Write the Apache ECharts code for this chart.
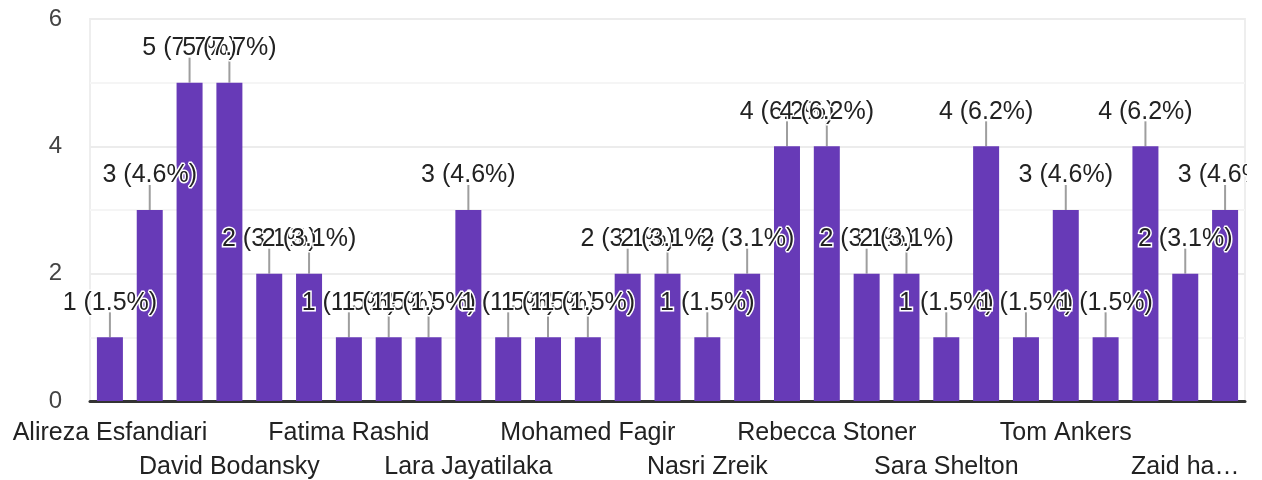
<!DOCTYPE html>
<html>
<head>
<meta charset="utf-8">
<script src="https://cdn.jsdelivr.net/npm/echarts@6/dist/echarts.min.js"></script>
<style>
html,body{margin:0;padding:0;background:#fff;}
#chart{width:1262px;height:480px;}
</style>
</head>
<body>
<div id="chart"></div>
<script>
// Category names: only every third name is legible in the reference; others left blank.
const categories = [
  'Alireza Esfandiari', '', '',
  'David Bodansky', '', '',
  'Fatima Rashid', '', '',
  'Lara Jayatilaka', '', '',
  'Mohamed Fagir', '', '',
  'Nasri Zreik', '', '',
  'Rebecca Stoner', '', '',
  'Sara Shelton', '', '',
  'Tom Ankers', '', '',
  'Zaid ha…', ''
];
const counts = [1, 3, 5, 5, 2, 2, 1, 1, 1, 3, 1, 1, 1, 2, 2, 1, 2, 4, 4, 2, 2, 1, 4, 1, 3, 1, 4, 2, 3];
const yTicks = [0, 2, 4, 6];

const total = counts.reduce((a, b) => a + b, 0);
const FONT = "'Liberation Sans', Arial, Helvetica, sans-serif";

const chart = echarts.init(document.getElementById('chart'));
chart.setOption({
  animation: false,
  grid: {
    left: 90, right: 17, top: 19, bottom: 79,
    containLabel: false,
    outerBoundsMode: 'none',
    show: true, borderColor: '#eeeeee', borderWidth: 2, backgroundColor: 'transparent'
  },
  graphic: [{
    type: 'rect', z: 100, silent: true,
    shape: { x: 1247, y: 0, width: 15, height: 398 },
    style: { fill: '#ffffff' }
  }],
  xAxis: {
    type: 'category',
    data: categories,
    axisLine: { show: true, lineStyle: { color: '#333333', width: 3 } },
    axisTick: { show: false },
    splitLine: { show: false },
    axisLabel: {
      interval: 0,
      hideOverlap: false,
      margin: 15,
      fontSize: 25,
      lineHeight: 34,
      color: '#222222',
      fontFamily: FONT,
      formatter: function (value, index) {
        if (index % 3 !== 0) return '';
        return (Math.floor(index / 3) % 2 === 1) ? '\n' + value : value;
      }
    }
  },
  yAxis: {
    type: 'value',
    min: 0, max: 6, interval: 1,
    axisLine: { show: false },
    axisTick: { show: false },
    splitLine: { show: true, lineStyle: { color: ['#ececec', '#f5f5f5'], width: 2 } },
    axisLabel: {
      margin: 28,
      fontSize: 24,
      color: '#444444',
      fontFamily: FONT,
      formatter: function (v) { return yTicks.indexOf(v) >= 0 ? String(v) : ''; }
    }
  },
  series: [
    {
      type: 'custom',
      z: 1,
      silent: true,
      data: counts.map((v, i) => [i, v]),
      renderItem: function (params, api) {
        const p = api.coord([api.value(0), api.value(1)]);
        return {
          type: 'line',
          shape: { x1: p[0], y1: p[1], x2: p[0], y2: p[1] - 25 },
          style: { stroke: '#9e9e9e', lineWidth: 2 }
        };
      }
    },
    {
      type: 'bar',
      z: 2,
      data: counts,
      barWidth: 26,
      itemStyle: { color: '#673ab7' },
      label: {
        show: true,
        position: 'top',
        distance: 22,
        fontSize: 25,
        color: '#222222',
        fontFamily: FONT,
        textBorderColor: '#ffffff',
        textBorderWidth: 3,
        formatter: function (p) {
          return p.value + ' (' + (p.value / total * 100).toFixed(1) + '%)';
        }
      }
    }
  ]
});
</script>
</body>
</html>
